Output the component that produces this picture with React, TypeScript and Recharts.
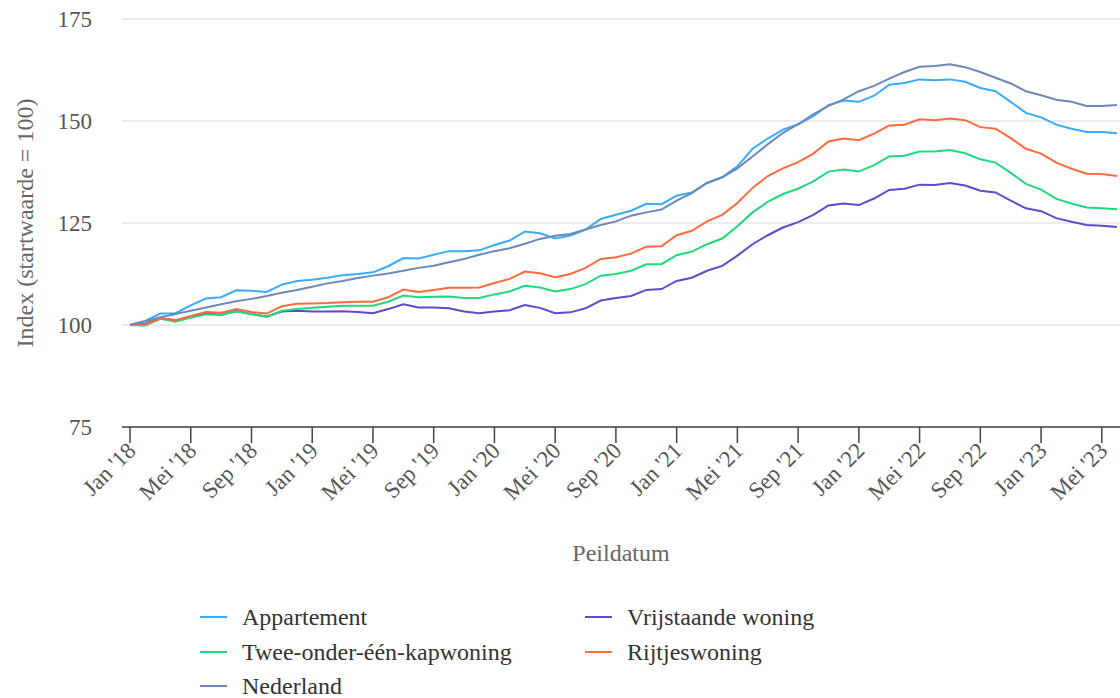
import { CartesianGrid, Line, LineChart, XAxis, YAxis } from "recharts";

const FONT = '"Liberation Serif", "Times New Roman", serif';

const MONTHS = ["Jan", "Feb", "Mrt", "Apr", "Mei", "Jun", "Jul", "Aug", "Sep", "Okt", "Nov", "Dec"];
const YEARS = ["18", "19", "20", "21", "22", "23"];
// Jan '18 .. Jun '23
const PERIODS = YEARS.flatMap((y) => MONTHS.map((m) => `${m} '${y}`)).slice(0, 66);

const APPARTEMENT = [
  100, 101.0, 102.8, 102.9, 104.8, 106.5, 106.8, 108.5, 108.4, 108.1, 109.9, 110.8,
  111.1, 111.6, 112.2, 112.5, 112.9, 114.4, 116.4, 116.3, 117.2, 118.1, 118.1, 118.3,
  119.6, 120.7, 122.9, 122.5, 121.2, 121.9, 123.4, 126.0, 127.0, 128.0, 129.7, 129.6,
  131.7, 132.5, 134.8, 136.2, 138.9, 143.2, 145.7, 147.9, 149.2, 151.2, 153.9, 155.0,
  154.7, 156.2, 158.9, 159.3, 160.2, 160.0, 160.2, 159.6, 158.1, 157.3, 154.7, 152.0,
  150.9, 149.1, 148.1, 147.3, 147.3, 147.0,
];

const VRIJSTAANDE = [
  100, 100.3, 101.7, 101.1, 102.0, 102.8, 102.5, 103.4, 102.7, 102.1, 103.3, 103.5,
  103.3, 103.3, 103.4, 103.2, 102.9, 103.9, 105.1, 104.3, 104.3, 104.1, 103.3, 102.9,
  103.3, 103.6, 104.9, 104.2, 102.9, 103.1, 104.1, 106.0, 106.6, 107.1, 108.6, 108.8,
  110.8, 111.6, 113.3, 114.5, 117.0, 119.8, 122.0, 123.9, 125.2, 127.0, 129.3, 129.8,
  129.4, 131.0, 133.1, 133.4, 134.4, 134.3, 134.8, 134.2, 132.9, 132.5, 130.5, 128.6,
  127.9, 126.2, 125.3, 124.5, 124.3, 124.0,
];

const TWEE_ONDER_EEN_KAP = [
  100, 99.9, 101.5, 100.8, 101.8, 102.6, 102.5, 103.3, 102.7, 102.0, 103.5, 103.9,
  104.2, 104.5, 104.7, 104.7, 104.7, 105.7, 107.2, 106.8, 106.9, 107.0, 106.6, 106.6,
  107.5, 108.2, 109.6, 109.2, 108.2, 108.8, 110.0, 112.1, 112.5, 113.3, 114.9, 114.9,
  117.1, 118.0, 119.8, 121.2, 124.2, 127.6, 130.2, 132.1, 133.4, 135.2, 137.6, 138.1,
  137.6, 139.2, 141.3, 141.5, 142.5, 142.5, 142.9, 142.1, 140.6, 139.8, 137.3, 134.6,
  133.2, 130.9, 129.8, 128.8, 128.6, 128.4,
];

const RIJTJES = [
  100, 100.1, 101.6, 101.2, 102.2, 103.2, 103.0, 103.9, 103.2, 102.8, 104.6, 105.2,
  105.3, 105.4, 105.6, 105.7, 105.7, 106.8, 108.7, 108.1, 108.6, 109.1, 109.1, 109.2,
  110.3, 111.3, 113.1, 112.7, 111.7, 112.5, 114.0, 116.2, 116.6, 117.5, 119.2, 119.3,
  122.0, 123.1, 125.4, 127.0, 129.9, 133.6, 136.5, 138.4, 139.9, 142.0, 145.0, 145.7,
  145.3, 146.9, 148.9, 149.1, 150.4, 150.2, 150.6, 150.2, 148.5, 148.1, 145.8, 143.2,
  142.0, 139.8, 138.3, 137.1, 137.0, 136.5,
];

const NEDERLAND = [
  100, 100.9, 101.9, 102.7, 103.5, 104.3, 105.1, 105.8, 106.4, 107.1, 107.9, 108.6,
  109.4, 110.2, 110.8, 111.5, 112.1, 112.6, 113.3, 114.0, 114.5, 115.4, 116.2, 117.2,
  118.1, 118.8, 119.9, 121.1, 121.9, 122.3, 123.4, 124.5, 125.4, 126.8, 127.6, 128.3,
  130.5, 132.3, 134.8, 136.2, 138.4, 141.3, 144.3, 147.1, 149.2, 151.6, 153.7, 155.3,
  157.3, 158.6, 160.4, 162.0, 163.3, 163.5, 163.9, 163.2, 162.0, 160.6, 159.2, 157.3,
  156.3, 155.2, 154.7, 153.7, 153.7, 153.9,
];

const Y_TICKS = [75, 100, 125, 150, 175];

const SERIES = [
  { key: "appartement", name: "Appartement", color: "#3aabf8", values: APPARTEMENT },
  { key: "vrijstaande", name: "Vrijstaande woning", color: "#5a4bcf", values: VRIJSTAANDE },
  { key: "tweeOnderEen", name: "Twee-onder-één-kapwoning", color: "#20d97c", values: TWEE_ONDER_EEN_KAP },
  { key: "rijtjes", name: "Rijtjeswoning", color: "#ff6a3d", values: RIJTJES },
  { key: "nederland", name: "Nederland", color: "#6d88b7", values: NEDERLAND },
];

const data = PERIODS.map((label, i) => {
  const row: Record<string, string | number> = { label };
  SERIES.forEach((s) => {
    row[s.key] = s.values[i];
  });
  return row;
});

function DateTick({ x, y, payload }: any) {
  return (
    <text
      x={x}
      y={y}
      dy={10}
      textAnchor="end"
      transform={`rotate(-45, ${x}, ${y})`}
      fill="#555"
      fontSize={23}
      fontFamily={FONT}
    >
      {payload.value}
    </text>
  );
}

// legend sits in two columns under the chart
const LEGEND_COLS = [200, 585];
const LEGEND_ROWS = [617, 652, 686];

export default function App() {
  return (
    <div
      style={{
        position: "absolute",
        left: 0,
        top: 0,
        width: 1120,
        height: 698,
        background: "#fff",
        fontFamily: FONT,
        overflow: "hidden",
      }}
    >
      <LineChart width={1120} height={590} data={data} margin={{ top: 19, right: 0, bottom: 23, left: 0 }}>
        <CartesianGrid vertical={false} stroke="#e6e6e6" strokeWidth={1.5} />
        <XAxis
          dataKey="label"
          interval={3}
          height={140}
          padding={{ left: 8, right: 3 }}
          tickSize={16}
          tickMargin={2}
          tick={<DateTick />}
          stroke="#444"
          strokeWidth={1.5}
          label={{
            value: "Peildatum",
            position: "insideBottom",
            offset: 6,
            fill: "#666",
            fontSize: 24,
            fontFamily: FONT,
          }}
        />
        <YAxis
          domain={[75, 175]}
          ticks={Y_TICKS}
          width={122}
          axisLine={false}
          tickLine={false}
          tickSize={0}
          tickMargin={30}
          tick={{ fill: "#555", fontSize: 23, fontFamily: FONT }}
          label={{
            value: "Index (startwaarde = 100)",
            angle: -90,
            position: "insideLeft",
            offset: 24,
            fill: "#666",
            fontSize: 24,
            fontFamily: FONT,
            style: { textAnchor: "middle" },
          }}
        />
        {SERIES.map((s) => (
          <Line
            key={s.key}
            type="linear"
            dataKey={s.key}
            name={s.name}
            stroke={s.color}
            strokeWidth={2}
            dot={false}
            isAnimationActive={false}
          />
        ))}
      </LineChart>
      {SERIES.map((s, i) => (
        <div
          key={s.key}
          style={{
            position: "absolute",
            left: LEGEND_COLS[i % 2],
            top: LEGEND_ROWS[Math.floor(i / 2)] - 11,
            height: 22,
            lineHeight: "22px",
            display: "flex",
            alignItems: "center",
            fontSize: 24,
            color: "#333",
            whiteSpace: "nowrap",
          }}
        >
          <span style={{ display: "inline-block", width: 27, height: 2.5, background: s.color, marginRight: 15 }} />
          {s.name}
        </div>
      ))}
    </div>
  );
}
